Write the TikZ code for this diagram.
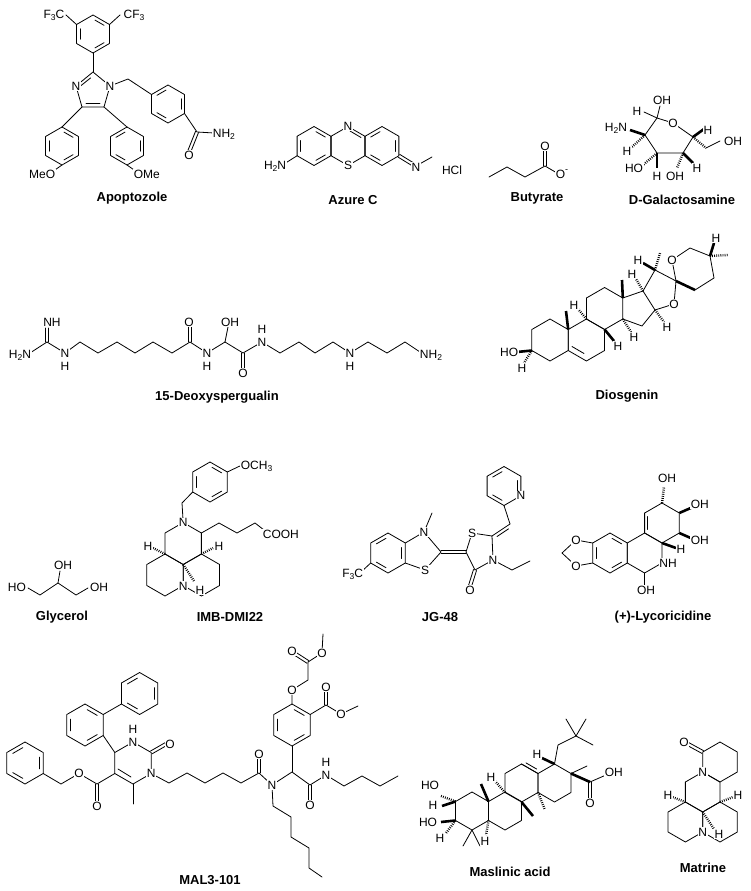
\documentclass[tikz,border=0pt]{standalone}
\usepackage{fontspec}
\setmainfont{Liberation Sans}
\usetikzlibrary{calc}
\newcommand\sub[1]{\raisebox{-0.35ex}{\fontsize{8.5}{8.5}\selectfont #1}}
\newcommand\minus{\raisebox{0.9ex}{\fontsize{9}{9}\selectfont -}}
% hexagon: centre x, centre y, radius, start angle
\newcommand\hexring[4]{\draw[bond] (#1,#2) +(#4:#3) -- +({#4+60}:#3) -- +({#4+120}:#3) -- +({#4+180}:#3) -- +({#4+240}:#3) -- +({#4+300}:#3) -- cycle;}
% inner lines of an aromatic ring
\newcommand\arom[4]{\foreach \k in {0,120,240}{\draw[bond] (#1,#2) +({#4+\k+8}:{0.74*#3}) -- +({#4+\k+52}:{0.74*#3});}}
% centred double bond
\newcommand\dbond[2]{\draw[bond] ($#1!1.6pt!90:#2$) -- ($#2!1.6pt!-90:#1$); \draw[bond] ($#1!1.6pt!-90:#2$) -- ($#2!1.6pt!90:#1$);}
% double bond with the second line to one side
\newcommand\sdb[3]{\draw[bond] #1 -- #2; \coordinate (t1) at ($#1!0.18!#2$); \coordinate (t2) at ($#2!0.18!#1$);
  \draw[bond] ($(t1)!3.2pt!#3:(t2)$) -- ($(t2)!3.2pt!-#3:(t1)$);}
\tikzset{
  bond/.style={line width=0.8pt, line cap=round, line join=round},
  wedgeb/.style={line width=2.6pt},
  hashb/.style={line width=2.4pt, dash pattern=on 0.8pt off 1.3pt},
  atom/.style={font=\fontsize{12}{12}\selectfont, inner sep=0.7pt, fill=white},
  hlab/.style={font=\fontsize{12}{12}\selectfont, inner sep=0pt},
  title/.style={font=\bfseries\fontsize{13}{14}\selectfont}
}
\begin{document}
\begin{tikzpicture}[x=1pt,y=-1pt]
\useasboundingbox (0,0) rectangle (750,891);

% ---- Apoptozole
\hexring{93}{34}{19}{30} \arom{93}{34}{19}{30}
\draw[bond] (76.5,24.5) -- (66,15);
\draw[bond] (109.5,24.5) -- (120,15);
\draw[bond] (93,53) -- (93,72);
\draw[bond] (93,72) -- (110,86) -- (104,107) -- (82,107) -- (76,86) -- cycle;
\draw[bond] (86,103) -- (100,103);
\draw[bond] (90.5,78) -- (80.5,86);
\draw[bond] (110,86) -- (128,79) -- (151.5,94.5);
\hexring{168}{104}{19}{30} \arom{168}{104}{19}{90}
\draw[bond] (184.5,113.5) -- (197,132) -- (214,133);
\dbond{(197,132)}{(189,152)}
\draw[bond] (82,107) -- (62,127);
\hexring{62}{146}{19}{30} \arom{62}{146}{19}{30}
\draw[bond] (62,165) -- (52,172);
\draw[bond] (104,107) -- (127,127);
\hexring{127}{146}{19}{30} \arom{127}{146}{19}{90}
\draw[bond] (127,165) -- (137,172);
\node[atom] (apF) at (54,15) {F\sub{3}C};
\node[atom] (apCF) at (134,15) {CF\sub{3}};
\node[atom] (apN3) at (76,86) {N};
\node[atom] (apN1) at (110,86) {N};
\node[atom] (apO) at (189,155) {O};
\node[atom, anchor=west] (apNH) at (212,134) {NH\sub{2}};
\node[atom, anchor=east] (apMeO) at (56,174) {MeO};
\node[atom, anchor=west] (apOMe) at (133,174) {OMe};
\node[title] (tApo) at (132,198) {Apoptozole};

% ---- Azure C
\hexring{314}{146}{19.5}{30} \arom{314}{146}{19.5}{30}
\hexring{348}{146}{19.5}{30}
\hexring{382}{146}{19.5}{30} \arom{382}{146}{19.5}{90}
\draw[bond] (350,131) -- (361,137.5);
\draw[bond] (297.1,155.75) -- (284,164);
\dbond{(398.9,155.75)}{(414,165)}
\draw[bond] (416,166) -- (432,157);
\node[atom] (azN) at (348,126.5) {N};
\node[atom] (azS) at (348,165.5) {S};
\node[atom, anchor=east] (azNH) at (287,166) {H\sub{2}N};
\node[atom] (azNm) at (416,167) {N};
\node[atom] (azHCl) at (452,170) {HCl};
\node[title] (tAz) at (353,200) {Azure C};

% ---- Butyrate
\draw[bond] (489,177) -- (507,167) -- (525,177) -- (545,166) -- (557,173);
\dbond{(545,166)}{(545,150)}
\node[atom] (buO) at (545,146) {O};
\node[atom] (buOm) at (562,174) {O\minus};
\node[title] (tBu) at (537,198) {Butyrate};

% ---- D-Galactosamine
\draw[bond] (645,135) -- (657,118) -- (673,123) -- (693,137) -- (683,153) -- (657,153) -- cycle;
\draw[bond] (657,118) -- (660,106);
\draw[bond] (657,118) -- (644,112);
\draw[wedgeb] (645,135) -- (630,130);
\draw[hashb] (645,135) -- (632,147);
\draw[hashb] (657,153) -- (643,165);
\draw[wedgeb] (657,153) -- (657,168);
\draw[hashb] (683,153) -- (677,168);
\draw[wedgeb] (683,153) -- (693,163);
\draw[wedgeb] (693,137) -- (704,129);
\draw[hashb] (693,137) -- (706,148);
\draw[bond] (706,148) -- (720,141);
\node[atom] (gaO) at (673,123) {O};
\node[atom] (gaOH1) at (662,100) {OH};
\node[atom] (gaH1) at (637,111) {H};
\node[atom] (gaN) at (616,128) {H\sub{2}N};
\node[atom] (gaH2) at (627,151) {H};
\node[atom] (gaO3) at (634,168) {HO};
\node[atom] (gaH3) at (657,176) {H};
\node[atom] (gaO4) at (675,176) {OH};
\node[atom] (gaH4) at (697,168) {H};
\node[atom] (gaH5) at (708,130) {H};
\node[atom] (gaO6) at (733,141) {OH};
\node[title] (tGa) at (682,200) {D-Galactosamine};

% ---- 15-Deoxyspergualin
\dbond{(47,342)}{(47,328)}
\draw[bond] (47,342) -- (30,353);
\draw[bond] (47,342) -- (65,353) -- (80,342) -- (98,353) -- (117,342) -- (135,353) -- (153,342) -- (172,353) -- (190,342) -- (207,353) -- (225,342) -- (243,353) -- (262,342) -- (280,353) -- (299,342) -- (315,353) -- (333,342) -- (350,353) -- (368,342) -- (387,353) -- (405,342) -- (420,352);
\dbond{(190,342)}{(190,326)}
\draw[bond] (225,342) -- (228,327);
\dbond{(243,353)}{(243,369)}
\node[atom] (dsNH) at (52,322) {NH};
\node[atom] (dsNH2a) at (20,355) {H\sub{2}N};
\node[atom] (dsN1) at (65,353) {N};
\node[hlab] (dsH1) at (65,366) {H};
\node[atom] (dsO1) at (189,322) {O};
\node[atom] (dsN2) at (207,353) {N};
\node[hlab] (dsH2) at (207,366) {H};
\node[atom] (dsOH) at (230,322) {OH};
\node[atom] (dsO2) at (243,373) {O};
\node[atom] (dsN3) at (262,342) {N};
\node[hlab] (dsH3) at (262,329) {H};
\node[atom] (dsN4) at (350,353) {N};
\node[hlab] (dsH4) at (350,366) {H};
\node[atom] (dsNH2b) at (431,355) {NH\sub{2}};
\node[title] (tDs) at (217,397) {15-Deoxyspergualin};

% ---- Diosgenin
\hexring{550}{340}{21}{30}
\hexring{586.4}{340}{21}{30}
\hexring{604.6}{308.5}{21}{30}
\draw[bond] (622.8,298) -- (643,291) -- (655,310) -- (642,326) -- (622.8,319);
\draw[bond] (655,310) -- (674,304) -- (676,281) -- (655,270) -- (643,291);
\draw[bond] (676,281) -- (672,260) -- (690,248) -- (710,256) -- (714,278) -- (695,290);
\draw[wedgeb] (676,281) -- (695,290);
\draw[bond] (572,346.5) -- (584,353.5);
\draw[hashb] (655,270) -- (660,253);
\draw[wedgeb] (710,256) -- (714,243);
\draw[hashb] (710,256) -- (728,255);
\draw[wedgeb] (622.8,298) -- (622,280);
\draw[wedgeb] (568.2,329.5) -- (566,311);
\draw[hashb] (586.4,319) -- (578,309);
\draw[wedgeb] (604.6,329.5) -- (614,341);
\draw[hashb] (622.8,319) -- (631,332);
\draw[hashb] (643,291) -- (636,279);
\draw[wedgeb] (655,270) -- (643,263);
\draw[hashb] (655,310) -- (664,322);
\draw[wedgeb] (531.8,350.5) -- (517,352);
\draw[hashb] (531.8,350.5) -- (524,363);
\node[atom] (dgO1) at (674,304) {O};
\node[atom] (dgO2) at (672,260) {O};
\node[atom] (dgH25) at (716,238) {H};
\node[atom] (dgH9) at (574,305) {H};
\node[atom] (dgH8) at (618,346) {H};
\node[atom] (dgH14) at (634,337) {H};
\node[atom] (dgH17) at (632,274) {H};
\node[atom] (dgH20) at (638,260) {H};
\node[atom] (dgH16) at (667,327) {H};
\node[atom, anchor=east] (dgHO) at (519,352) {HO};
\node[atom] (dgH3) at (522,368) {H};
\node[title] (tDg) at (627,396) {Diosgenin};

% ---- Glycerol
\draw[bond] (28,588) -- (40,595) -- (58,583) -- (76,595) -- (88,588);
\draw[bond] (58,583) -- (60,571);
\node[atom] (glO1) at (17,587) {HO};
\node[atom] (glO2) at (63,565) {OH};
\node[atom] (glO3) at (99,587) {OH};
\node[title] (tGl) at (62,617) {Glycerol};

% ---- IMB-DMI22
\hexring{210}{482}{20}{30} \arom{210}{482}{20}{30}
\draw[bond] (227.3,472) -- (242,465);
\draw[bond] (183.2,522.5) -- (182,503) -- (192.7,492);
\hexring{183.2}{543.5}{21}{30}
\hexring{165}{575}{21}{30}
\hexring{201.4}{575}{21}{30}
\draw[bond] (201.4,533) -- (219,523) -- (237,533) -- (255,523) -- (264,530);
\draw[hashb] (165,554) -- (153,548);
\draw[hashb] (201.4,554) -- (213,548);
\draw[hashb] (183.2,564.5) -- (194,581);
\node[atom, anchor=west] (imOMe) at (240,466) {OCH\sub{3}};
\node[atom] (imN1) at (183.2,522.5) {N};
\node[atom] (imN2) at (183.2,586) {N};
\node[atom, anchor=west] (imCOOH) at (262,534) {COOH};
\node[atom] (imH1) at (148,546) {H};
\node[atom] (imH2) at (219,546) {H};
\node[atom] (imH3) at (200,590) {H};
\node[title] (tIm) at (230,617) {IMB-DMI22};

% ---- JG-48
\hexring{388}{553}{20}{30} \arom{388}{553}{20}{90}
\draw[bond] (405.3,543) -- (424,532) -- (441,552) -- (425,570) -- (405.3,563);
\draw[bond] (424,532) -- (432,513);
\dbond{(441,552)}{(466,552)}
\draw[bond] (466,552) -- (472,533) -- (492,536) -- (493,560) -- (475,570) -- cycle;
\dbond{(475,570)}{(470,586)}
\draw[bond] (493,560) -- (512,570) -- (530,561);
\sdb{(492,536)}{(510,524)}{-90}
\draw[bond] (510,524) -- (504,505.5);
\hexring{504}{486}{19.5}{30} \arom{504}{486}{19.5}{90}
\draw[bond] (370.7,563) -- (361,572);
\node[atom] (jgN1) at (424,532) {N};
\node[atom] (jgS1) at (425,570) {S};
\node[atom] (jgS2) at (472,533) {S};
\node[atom] (jgN2) at (493,560) {N};
\node[atom] (jgO) at (470,590) {O};
\node[atom] (jgNp) at (520.9,495.75) {N};
\node[atom, anchor=east] (jgCF) at (364,574) {F\sub{3}C};
\node[title] (tJg) at (440,617) {JG-48};

% ---- (+)-Lycoricidine
\hexring{610}{553}{20}{30} \arom{610}{553}{20}{30}
\hexring{644.6}{553}{20}{30}
\hexring{662}{523}{20}{30}
\draw[bond] (592.7,543) -- (576,540) -- (562,553) -- (576,566) -- (592.7,563);
\sdb{(644.6,533)}{(644.6,513)}{-90}
\draw[bond] (644.6,573) -- (644.6,586);
\draw[hashb] (662,503) -- (664,487);
\draw[wedgeb] (679.3,513) -- (693,507);
\draw[wedgeb] (679.3,533) -- (693,539);
\draw[wedgeb] (662,543) -- (676,548);
\node[atom] (lyO1) at (576,540) {O};
\node[atom] (lyO2) at (576,566) {O};
\node[atom] (lyOH1) at (667,478) {OH};
\node[atom, anchor=west] (lyOH2) at (690,504) {OH};
\node[atom, anchor=west] (lyOH3) at (690,540) {OH};
\node[atom] (lyH) at (681,549) {H};
\node[atom] (lyNH) at (668,563) {NH};
\node[atom] (lyOH4) at (646,590) {OH};
\node[title] (tLy) at (663,617) {(+)-Lycoricidine};

% ---- MAL3-101
\hexring{133}{763}{21}{30}
\draw[bond] (114.8,773.5) -- (97,784) -- (79,773.5) -- (61,784) -- (43.2,773.5);
\dbond{(97,784)}{(97,802)}
\hexring{25}{763}{21}{30} \arom{25}{763}{21}{90}
\draw[bond] (133,784) -- (133,804);
\draw[bond] (118,769) -- (131,777);
\dbond{(151.2,752.5)}{(166,744)}
\draw[bond] (114.8,752.5) -- (103.2,735.5);
\hexring{85}{725}{21}{30} \arom{85}{725}{21}{30}
\draw[bond] (103.2,714.5) -- (121.4,704);
\hexring{139.6}{693.5}{21}{30} \arom{139.6}{693.5}{21}{90}
\draw[bond] (151.2,773.5) -- (169,783) -- (187,773) -- (205,783) -- (223,773) -- (241,783) -- (259,773) -- (272,785) -- (292,772) -- (310,785) -- (326,775) -- (344,786) -- (362,776) -- (380,786) -- (398,776);
\dbond{(259,773)}{(259,757)}
\dbond{(310,785)}{(310,801)}
\draw[bond] (272,785) -- (273,806) -- (291,817) -- (291,837) -- (309,848) -- (309,868) -- (322,877);
\draw[bond] (292,772) -- (292,746);
\hexring{292}{725}{21}{30} \arom{292}{725}{21}{30}
\draw[bond] (292,704) -- (292,690) -- (308,680) -- (308,662);
\dbond{(308,662)}{(294,653)}
\draw[bond] (308,662) -- (322,653) -- (323,634);
\draw[bond] (310.2,714.5) -- (326,705) -- (341,714) -- (358,706);
\dbond{(326,705)}{(326,690)}
\node[atom] (maN3) at (133,742) {N};
\node[hlab] (maH3) at (133,729) {H};
\node[atom] (maN1) at (151.2,773.5) {N};
\node[atom] (maO1) at (170,744) {O};
\node[atom] (maO2) at (79,773.5) {O};
\node[atom] (maO3) at (97,806) {O};
\node[atom] (maO4) at (259,754) {O};
\node[atom] (maN) at (272,785) {N};
\node[atom] (maO5) at (310,805) {O};
\node[atom] (maNH) at (326,775) {N};
\node[hlab] (maHN) at (326,762) {H};
\node[atom] (maO6) at (292,690) {O};
\node[atom] (maO7) at (292,651) {O};
\node[atom] (maO8) at (322,653) {O};
\node[atom] (maO9) at (326,687) {O};
\node[atom] (maO10) at (341,714) {O};
\node[title] (tMa) at (210,880) {MAL3-101};

% ---- Maslinic acid
\hexring{472}{811}{19}{30}
\hexring{505}{811}{19}{30}
\hexring{521.5}{783}{19}{30}
\hexring{554.5}{783}{19}{30}
\sdb{(521.5,764)}{(538,773.5)}{90}
\draw[bond] (554.5,764) -- (558,745) -- (576,736) -- (566,719);
\draw[bond] (576,736) -- (586,719);
\draw[bond] (576,736) -- (593,745);
\draw[wedgeb] (554.5,764) -- (542,758);
\draw[bond] (571,773.5) -- (587,766);
\draw[wedgeb] (571,773.5) -- (590,782);
\draw[bond] (590,782) -- (606,775);
\dbond{(590,782)}{(590,799)}
\draw[hashb] (538,792.5) -- (545,810);
\draw[wedgeb] (521.5,802) -- (533,816);
\draw[wedgeb] (488.5,801.5) -- (481,784);
\draw[hashb] (505,792.5) -- (495,781);
\draw[hashb] (488.5,820.5) -- (486,835);
\draw[bond] (472,830) -- (463,846);
\draw[bond] (472,830) -- (480,846);
\draw[hashb] (455.5,801.5) -- (441,796);
\draw[wedgeb] (455.5,801.5) -- (442,806);
\draw[wedgeb] (455.5,820.5) -- (441,822);
\draw[hashb] (455.5,820.5) -- (446,833);
\node[atom] (mlH18) at (537,754) {H};
\node[atom] (mlH9) at (491,777) {H};
\node[atom, anchor=west] (mlOH) at (604,772) {OH};
\node[atom] (mlO) at (590,803) {O};
\node[atom] (mlH5) at (485,841) {H};
\node[atom] (mlHO1) at (430,785) {HO};
\node[atom] (mlH2) at (433,805) {H};
\node[atom] (mlHO2) at (428,822) {HO};
\node[atom] (mlH3) at (440,838) {H};
\node[title] (tMl) at (510,872) {Maslinic acid};

% ---- Matrine
\hexring{720}{762}{20}{30}
\hexring{702.7}{792}{20}{30}
\hexring{685.4}{822}{20}{30}
\hexring{720}{822}{20}{30}
\dbond{(702.7,752)}{(688,744)}
\draw[hashb] (685.4,802) -- (672,797);
\draw[hashb] (720,802) -- (733,797);
\draw[hashb] (702.7,812) -- (714,829);
\node[atom] (mtO) at (684,742) {O};
\node[atom] (mtN1) at (702.7,772) {N};
\node[atom] (mtN2) at (702.7,832) {N};
\node[atom] (mtH1) at (668,795) {H};
\node[atom] (mtH2) at (738,795) {H};
\node[atom] (mtH3) at (719,834) {H};
\node[title] (tMt) at (703,868) {Matrine};
\end{tikzpicture}
\end{document}
